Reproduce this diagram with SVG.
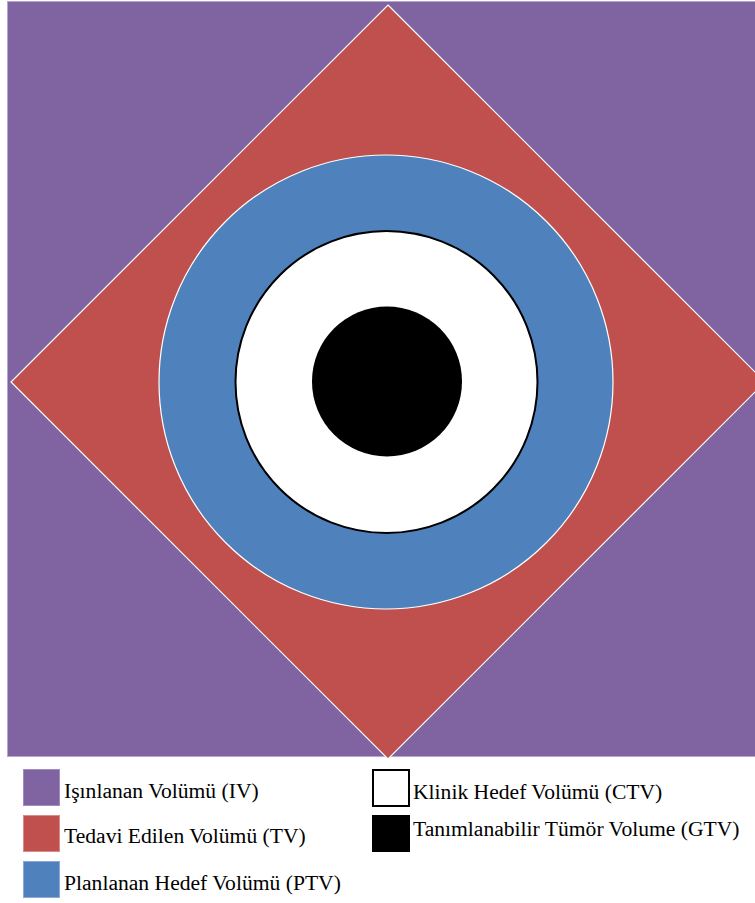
<svg xmlns="http://www.w3.org/2000/svg" width="755" height="903" viewBox="0 0 755 903">
<style>
.lbl{font-family:"Liberation Serif","Times New Roman",serif;font-size:21.6px;fill:#000}
.sw{stroke-width:1}
</style>
<rect width="755" height="903" fill="#ffffff"/>
<g id="iv">
<rect x="7.5" y="1.5" width="750" height="755" fill="#8064A2" stroke="#b8a6cc" stroke-width="1"/>
</g>
<g id="tv">
<polygon points="388,5 765,382 388,759 11,382" fill="#C0504D" stroke="#ffffff" stroke-width="1.2"/>
</g>
<g id="ptv">
<circle cx="386" cy="382" r="227" fill="#4F81BD" stroke="#ffffff" stroke-width="1.2"/>
</g>
<g id="ctv">
<circle cx="386.5" cy="382" r="151" fill="#ffffff" stroke="#000000" stroke-width="2"/>
</g>
<g id="gtv">
<circle cx="387" cy="381.5" r="75" fill="#000000"/>
</g>
<g id="legend">
<g id="leg-iv">
<rect x="23.5" y="769.5" width="36" height="36" fill="#8064A2" stroke="#a08cc0" class="sw"/>
<text class="lbl" x="64" y="798">Işınlanan Volümü (IV)</text>
</g>
<g id="leg-tv">
<rect x="23.5" y="815.5" width="36" height="36" fill="#C0504D" stroke="#d88a88" class="sw"/>
<text class="lbl" x="64" y="843">Tedavi Edilen Volümü (TV)</text>
</g>
<g id="leg-ptv">
<rect x="23.5" y="861.5" width="36" height="36" fill="#4F81BD" stroke="#8aaad6" class="sw"/>
<text class="lbl" x="64" y="890">Planlanan Hedef Volümü (PTV)</text>
</g>
<g id="leg-ctv">
<rect x="373" y="770" width="36" height="36" fill="#ffffff" stroke="#000000" stroke-width="2"/>
<text class="lbl" x="413" y="799">Klinik Hedef Volümü (CTV)</text>
</g>
<g id="leg-gtv">
<rect x="372" y="815" width="38" height="37" fill="#000000"/>
<text class="lbl" x="413" y="836">Tanımlanabilir Tümör Volume (GTV)</text>
</g>
</g>
</svg>
